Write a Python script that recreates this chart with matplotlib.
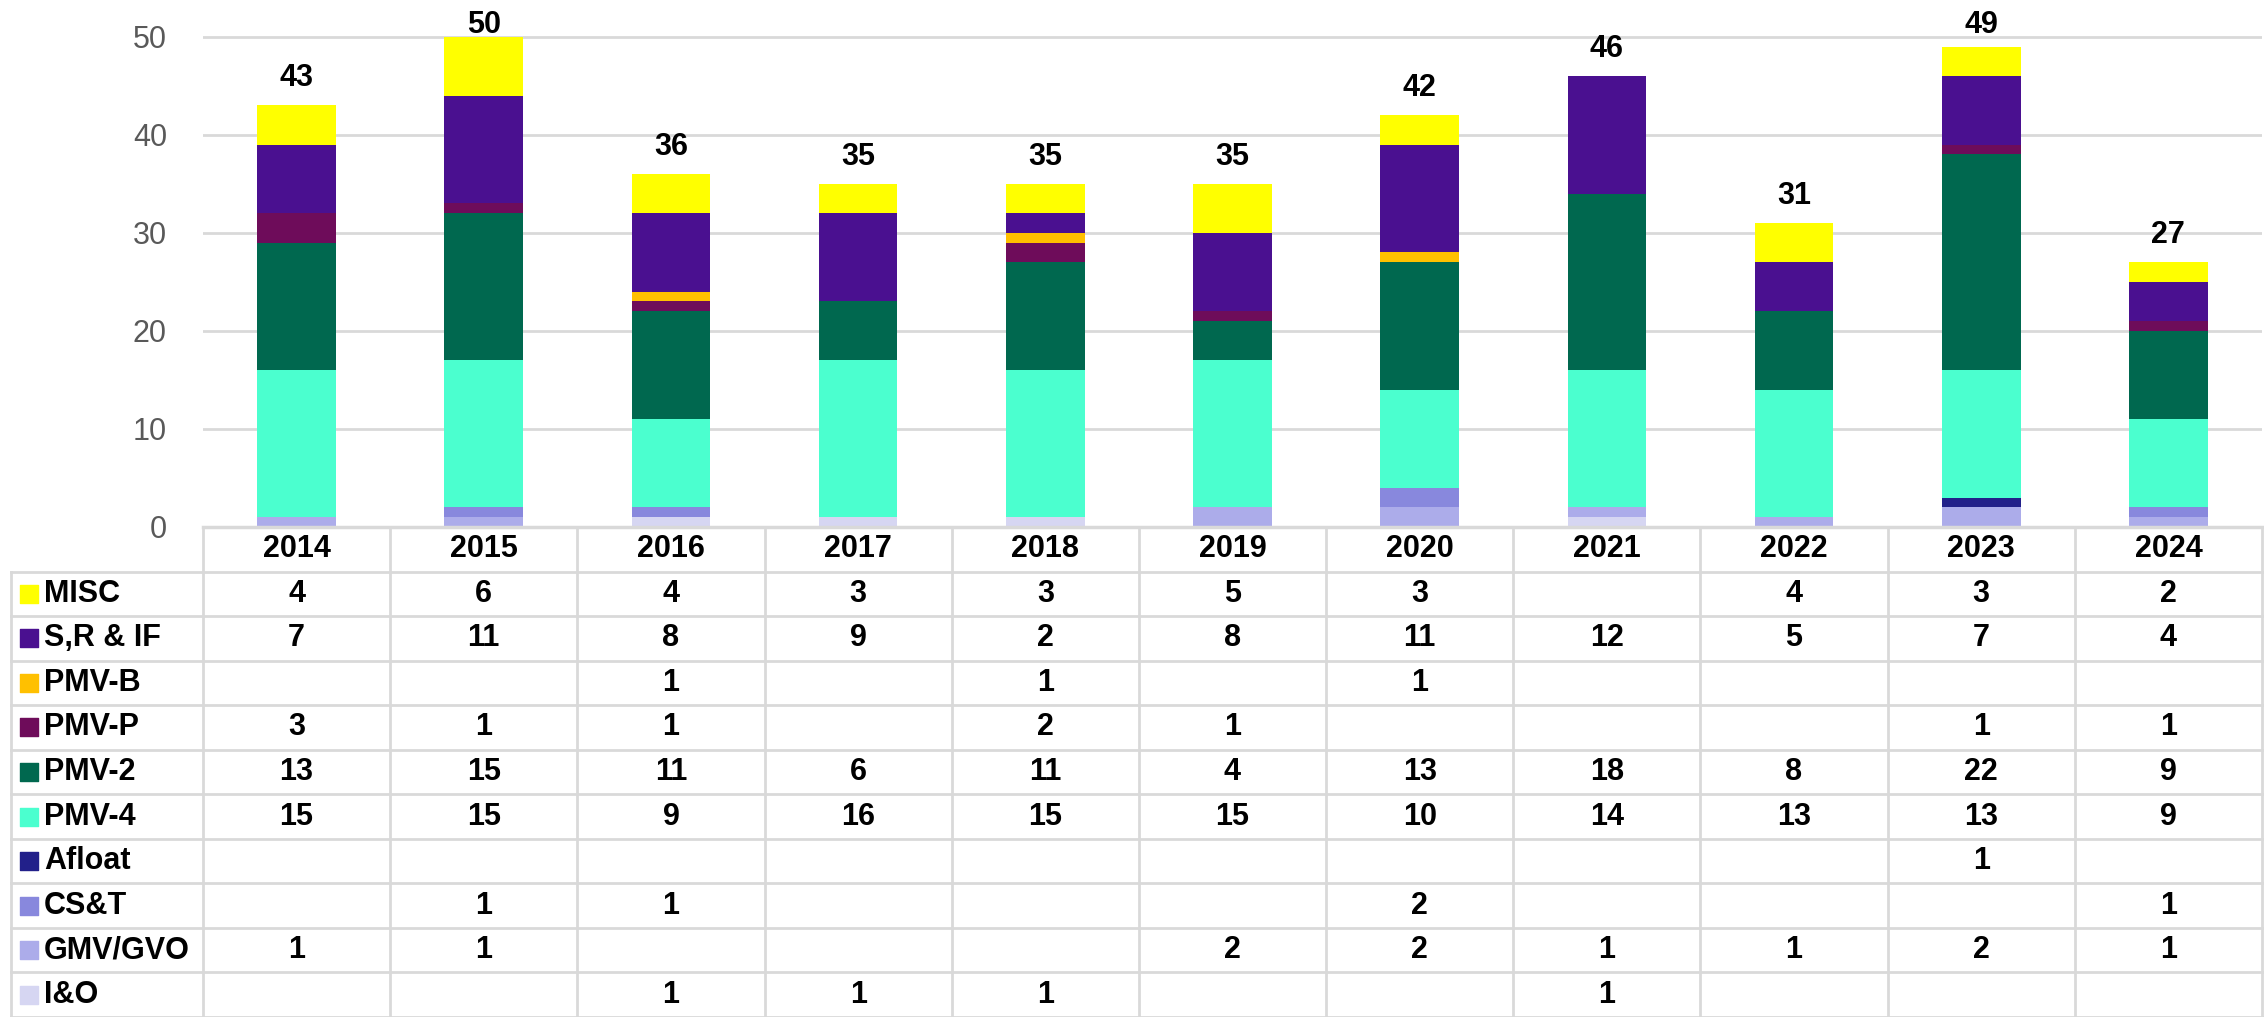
import numpy as np
import matplotlib.pyplot as plt

plt.rcParams['font.family'] = ['Liberation Sans', 'DejaVu Sans']

years = ['2014', '2015', '2016', '2017', '2018', '2019', '2020', '2021', '2022', '2023', '2024']

# series listed top-to-bottom as in the table; stacked bottom-up in reverse
names = ['MISC', 'S,R & IF', 'PMV-B', 'PMV-P', 'PMV-2', 'PMV-4', 'Afloat', 'CS&T', 'GMV/GVO', 'I&O']
misc = [4, 6, 4, 3, 3, 5, 3, 0, 4, 3, 2]
srif = [7, 11, 8, 9, 2, 8, 11, 12, 5, 7, 4]
pmv_b = [0, 0, 1, 0, 1, 0, 1, 0, 0, 0, 0]
pmv_p = [3, 1, 1, 0, 2, 1, 0, 0, 0, 1, 1]
pmv_2 = [13, 15, 11, 6, 11, 4, 13, 18, 8, 22, 9]
pmv_4 = [15, 15, 9, 16, 15, 15, 10, 14, 13, 13, 9]
afloat = [0, 0, 0, 0, 0, 0, 0, 0, 0, 1, 0]
cst = [0, 1, 1, 0, 0, 0, 2, 0, 0, 0, 1]
gmv = [1, 1, 0, 0, 0, 2, 2, 1, 1, 2, 1]
io = [0, 0, 1, 1, 1, 0, 0, 1, 0, 0, 0]
series = [misc, srif, pmv_b, pmv_p, pmv_2, pmv_4, afloat, cst, gmv, io]
colors = ['#FFFF00', '#4A1090', '#FFC000', '#6E0C5A', '#00684F',
          '#4BFFCF', '#22208A', '#8888DD', '#ACACEA', '#D6D6F2']

W_PX, H_PX = 2264, 1017
x_axis_left = 203
x_right = 2262
y_zero = 527
y_fifty = 36.7
table_left = 11
col_w = (x_right - x_axis_left) / len(years)
px_per_unit = (y_zero - y_fifty) / 50
y_top = y_zero / px_per_unit

fig = plt.figure(figsize=(W_PX / 100, H_PX / 100), dpi=100)
ax = fig.add_axes([x_axis_left / W_PX, (H_PX - y_zero) / H_PX,
                   (x_right - x_axis_left) / W_PX, y_zero / H_PX])

x = np.arange(len(years))
bottom = np.zeros(len(years))
for vals, c in zip(series[::-1], colors[::-1]):
    ax.bar(x, vals, 0.42, bottom=bottom, color=c, zorder=3)
    bottom += np.array(vals)

# total labels: baseline ~19px above bar, but kept inside the plot area
for xi, tot in zip(x, bottom):
    ly = min(tot + 19 / px_per_unit, y_top - 33 / px_per_unit)
    ax.text(xi, ly, f'{int(tot)}', ha='center', va='baseline',
            fontsize=22, fontweight='bold', clip_on=False)

ax.set_xlim(-0.5, len(years) - 0.5)
ax.set_ylim(0, y_top)
ax.set_yticks([0, 10, 20, 30, 40, 50])
ax.set_xticks([])
ax.tick_params(axis='y', length=0, labelsize=22, labelcolor='#595959', pad=26)
ax.yaxis.grid(True, color='#D9D9D9', linewidth=2)
ax.set_axisbelow(True)
for s in ax.spines.values():
    s.set_visible(False)

# data table below the chart
tax = fig.add_axes([table_left / W_PX, 0, (x_right - table_left) / W_PX, (H_PX - y_zero) / H_PX])
left_data = -0.5 - (x_axis_left - table_left) / col_w
n_rows = len(names) + 1
tax.set_xlim(left_data, len(years) - 0.5)
tax.set_ylim(n_rows, 0)
tax.axis('off')

gc = '#D9D9D9'
tax.plot([-0.5, len(years) - 0.5], [0, 0], color=gc, lw=2.5, clip_on=False)
for r in range(1, n_rows + 1):
    tax.plot([left_data, len(years) - 0.5], [r, r], color=gc, lw=2, clip_on=False)
for i in range(len(years) + 1):
    tax.plot([i - 0.5, i - 0.5], [0, n_rows], color=gc, lw=2, clip_on=False)
tax.plot([left_data, left_data], [1, n_rows], color=gc, lw=2, clip_on=False)

for i, yr in enumerate(years):
    tax.text(i, 0.5, yr, ha='center', va='center', fontsize=22, fontweight='bold')

sq_x = left_data + (29 - table_left) / col_w
txt_x = left_data + (44 - table_left) / col_w
for r, (name, vals, c) in enumerate(zip(names, series, colors), start=1):
    tax.scatter([sq_x], [r + 0.5], marker='s', s=150, color=c, clip_on=False)
    tax.text(txt_x, r + 0.5, name, ha='left', va='center', fontsize=22, fontweight='bold')
    for i, v in enumerate(vals):
        if v:
            tax.text(i, r + 0.5, str(v), ha='center', va='center', fontsize=22, fontweight='bold')

fig.savefig('out.png', dpi=100)
